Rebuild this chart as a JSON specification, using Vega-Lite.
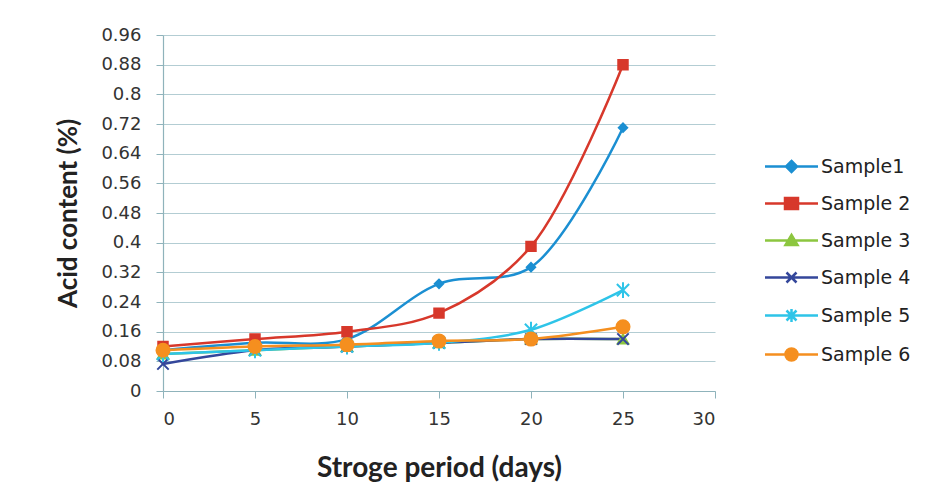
{
  "$schema": "https://vega.github.io/schema/vega-lite/v6.json",
  "width": 552,
  "height": 356,
  "autosize": {"type": "none"},
  "padding": {"left": 163, "top": 35, "right": 212, "bottom": 113},
  "background": "white",
  "config": {
    "view": {"stroke": null},
    "font": "DejaVu Sans",
    "axis": {
      "labelFont": "DejaVu Sans",
      "labelFontSize": 18,
      "labelColor": "#333333",
      "titleFont": "Lato",
      "titleFontWeight": "bold",
      "titleColor": "#222222",
      "gridColor": "#b3cdd3",
      "gridWidth": 1.2,
      "domainColor": "#8fb3bb",
      "domainWidth": 1.2,
      "tickColor": "#8fb3bb",
      "tickSize": 7
    }
  },
  "data": {
    "values": [
      {"day": 0, "value": 0.11, "sample": "Sample1"},
      {"day": 5, "value": 0.13, "sample": "Sample1"},
      {"day": 10, "value": 0.14, "sample": "Sample1"},
      {"day": 15, "value": 0.289, "sample": "Sample1"},
      {"day": 20, "value": 0.334, "sample": "Sample1"},
      {"day": 25, "value": 0.71, "sample": "Sample1"},
      {"day": 0, "value": 0.12, "sample": "Sample 2"},
      {"day": 5, "value": 0.14, "sample": "Sample 2"},
      {"day": 10, "value": 0.16, "sample": "Sample 2"},
      {"day": 15, "value": 0.21, "sample": "Sample 2"},
      {"day": 20, "value": 0.39, "sample": "Sample 2"},
      {"day": 25, "value": 0.88, "sample": "Sample 2"},
      {"day": 0, "value": 0.1, "sample": "Sample 3"},
      {"day": 5, "value": 0.11, "sample": "Sample 3"},
      {"day": 10, "value": 0.12, "sample": "Sample 3"},
      {"day": 15, "value": 0.13, "sample": "Sample 3"},
      {"day": 20, "value": 0.14, "sample": "Sample 3"},
      {"day": 25, "value": 0.14, "sample": "Sample 3"},
      {"day": 0, "value": 0.073, "sample": "Sample 4"},
      {"day": 5, "value": 0.11, "sample": "Sample 4"},
      {"day": 10, "value": 0.12, "sample": "Sample 4"},
      {"day": 15, "value": 0.13, "sample": "Sample 4"},
      {"day": 20, "value": 0.14, "sample": "Sample 4"},
      {"day": 25, "value": 0.14, "sample": "Sample 4"},
      {"day": 0, "value": 0.1, "sample": "Sample 5"},
      {"day": 5, "value": 0.11, "sample": "Sample 5"},
      {"day": 10, "value": 0.12, "sample": "Sample 5"},
      {"day": 15, "value": 0.13, "sample": "Sample 5"},
      {"day": 20, "value": 0.165, "sample": "Sample 5"},
      {"day": 25, "value": 0.272, "sample": "Sample 5"},
      {"day": 0, "value": 0.11, "sample": "Sample 6"},
      {"day": 5, "value": 0.12, "sample": "Sample 6"},
      {"day": 10, "value": 0.125, "sample": "Sample 6"},
      {"day": 15, "value": 0.135, "sample": "Sample 6"},
      {"day": 20, "value": 0.14, "sample": "Sample 6"},
      {"day": 25, "value": 0.173, "sample": "Sample 6"}
    ]
  },
  "transform": [{"calculate": "datum.sample", "as": "marker"}],
  "encoding": {
    "x": {
      "field": "day",
      "type": "quantitative",
      "scale": {"domain": [0, 30], "nice": false},
      "axis": {
        "values": [0, 5, 10, 15, 20, 25, 30],
        "grid": false,
        "labelPadding": 12,
        "title": "Stroge period (days)",
        "titleFontSize": 28,
        "titlePadding": 26
      }
    },
    "y": {
      "field": "value",
      "type": "quantitative",
      "scale": {"domain": [0, 0.96], "nice": false, "zero": true},
      "axis": {
        "values": [0, 0.08, 0.16, 0.24, 0.32, 0.4, 0.48, 0.56, 0.64, 0.72, 0.8, 0.88, 0.96],
        "format": ".2~f",
        "grid": true,
        "labelPadding": 15,
        "title": "Acid content (%)",
        "titleFontSize": 26,
        "titlePadding": 19
      }
    }
  },
  "layer": [
    {
      "mark": {"type": "line", "interpolate": "catmull-rom", "strokeWidth": 2.5},
      "encoding": {
        "color": {
          "field": "sample",
          "type": "nominal",
          "scale": {
            "domain": ["Sample1", "Sample 2", "Sample 3", "Sample 4", "Sample 5", "Sample 6"],
            "range": ["#1b8fd2", "#d7382b", "#8cc63f", "#34479b", "#2ec4e8", "#f58f1f"]
          },
          "legend": {
            "orient": "none",
            "legendX": 619,
            "legendY": 122,
            "title": null,
            "padding": 0,
            "symbolSize": 100,
            "symbolStrokeWidth": 2.5,
            "labelFont": "DejaVu Sans",
            "labelFontSize": 19,
            "labelColor": "#222222",
            "labelOffset": 20,
            "rowPadding": 16,
            "encode": {
              "symbols": {
                "update": {
                  "shape": {"signal": "datum.value === 'Sample1' ? 'M-5.3,0H5.3M0,-1.1L1.1,0L0,1.1L-1.1,0Z' : datum.value === 'Sample 2' ? 'M-5.3,0H5.3M-1.3,-1.1H1.3V1.1H-1.3Z' : datum.value === 'Sample 3' ? 'M-5.3,0H5.3M0,-1.1L1.2,0.9L-1.2,0.9Z' : datum.value === 'Sample 4' ? 'M-5.3,0H5.3M-1,-1L1,1M-1,1L1,-1' : datum.value === 'Sample 5' ? 'M-5.3,0H5.3M-1,-1L1,1M-1,1L1,-1M0,-1.3V1.3' : 'M-5.3,0H5.3M-1.2,0A1.2,1.2 0 1,0 1.2,0A1.2,1.2 0 1,0 -1.2,0Z'"},
                  "fill": {"signal": "scale('color', datum.value)"},
                  "stroke": {"signal": "scale('color', datum.value)"},
                  "strokeWidth": {"value": 2.5},
                  "opacity": {"value": 1}
                }
              }
            }
          }
        }
      }
    },
    {
      "mark": {"type": "point", "filled": true, "opacity": 1, "strokeWidth": 2},
      "encoding": {
        "fill": {"field": "marker", "type": "nominal", "scale": {"domain": ["Sample 6", "Sample 5", "Sample 4", "Sample 3", "Sample 2", "Sample1"], "range": ["#f58f1f", "#2ec4e8", "#34479b", "#8cc63f", "#d7382b", "#1b8fd2"]}, "legend": null},
        "stroke": {"field": "marker", "type": "nominal", "scale": {"domain": ["Sample 6", "Sample 5", "Sample 4", "Sample 3", "Sample 2", "Sample1"], "range": ["#f58f1f", "#2ec4e8", "#34479b", "#8cc63f", "#d7382b", "#1b8fd2"]}, "legend": null},
        "shape": {
          "field": "marker",
          "type": "nominal",
          "scale": {
            "domain": ["Sample 6", "Sample 5", "Sample 4", "Sample 3", "Sample 2", "Sample1"],
            "range": ["circle", "M-1,-1L1,1M-1,1L1,-1M0,-1.3V1.3", "M-1,-1L1,1M-1,1L1,-1", "triangle-up", "square", "diamond"]
          },
          "legend": null
        },
        "size": {
          "field": "marker",
          "type": "nominal",
          "scale": {
            "domain": ["Sample 6", "Sample 5", "Sample 4", "Sample 3", "Sample 2", "Sample1"],
            "range": [170, 70, 60, 100, 160, 90]
          },
          "legend": null
        }
      }
    }
  ]
}
